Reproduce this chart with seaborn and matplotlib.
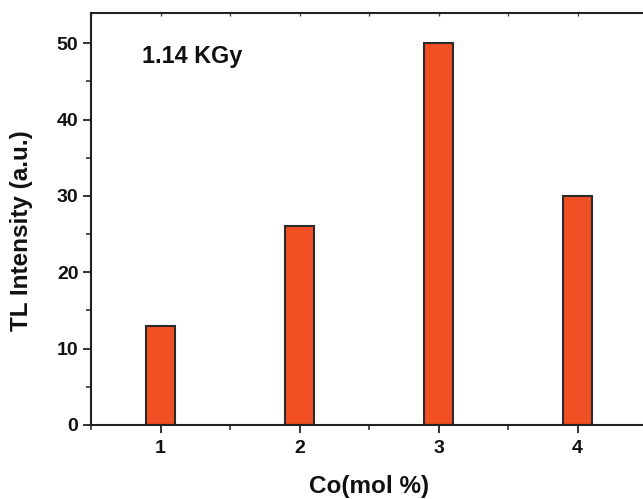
import matplotlib
matplotlib.use("Agg")
import matplotlib.pyplot as plt
from matplotlib.ticker import MultipleLocator
import seaborn as sns
import pandas as pd

# Co doping level (mol %) and thermoluminescence intensity
co_mol = [1, 2, 3, 4]
tl_intensity = [13, 26, 50, 30]
dose_label = "1.14 KGy"

sns.set_theme(style="ticks")
plt.rcParams["font.family"] = ["Liberation Sans", "DejaVu Sans"]
plt.rcParams["font.weight"] = "bold"
plt.rcParams["text.color"] = "#111111"
plt.rcParams["xtick.labelcolor"] = "#111111"
plt.rcParams["ytick.labelcolor"] = "#111111"
plt.rcParams["axes.labelcolor"] = "#111111"

df = pd.DataFrame({"co": co_mol, "tl": tl_intensity})

fig = plt.figure(figsize=(6.43, 4.99), dpi=100)
ax = fig.add_axes([0.1415, 0.1483, 0.865, 0.8262])

sns.barplot(data=df, x="co", y="tl", native_scale=True, width=0.21,
            color="#F05023", saturation=1, edgecolor="#2b2b2b",
            linewidth=1.5, ax=ax)

ax.set_xlim(0.5, 4.5)
ax.set_ylim(0, 54)
ax.xaxis.set_major_locator(MultipleLocator(1))
ax.xaxis.set_minor_locator(MultipleLocator(0.5))
ax.yaxis.set_major_locator(MultipleLocator(10))
ax.yaxis.set_minor_locator(MultipleLocator(5))

for side in ["left", "bottom", "top", "right"]:
    ax.spines[side].set_visible(True)
    ax.spines[side].set_linewidth(1.5)
    ax.spines[side].set_color("#222222")

ax.tick_params(axis="both", which="major", direction="out", length=6,
               width=1.3, color="#222222", labelsize=14)
ax.tick_params(axis="x", which="major", pad=5)
ax.tick_params(axis="y", which="major", pad=3)
ax.tick_params(axis="both", which="minor", direction="out", length=3.5,
               width=1.1, color="#222222")
# small inward ticks along the top spine
ax2 = ax.secondary_xaxis("top")
ax2.xaxis.set_major_locator(MultipleLocator(0.5))
ax2.tick_params(axis="x", which="major", direction="in", length=2.5,
                width=1.0, color="#444444", labeltop=False)
ax2.spines["top"].set_visible(False)

for lbl in ax.get_xticklabels() + ax.get_yticklabels():
    lbl.set_fontweight("bold")

ax.set_xlabel("Co(mol %)", fontsize=17.5, fontweight="bold", labelpad=13)
ax.set_ylabel("TL Intensity (a.u.)", fontsize=17.5, fontweight="bold")
ax.yaxis.set_label_coords(-0.104, 0.4705)

ax.text(0.87, 47.4, dose_label, fontsize=16.8, fontweight="bold",
        ha="left", va="baseline")

fig.savefig("out.png", dpi=100)
